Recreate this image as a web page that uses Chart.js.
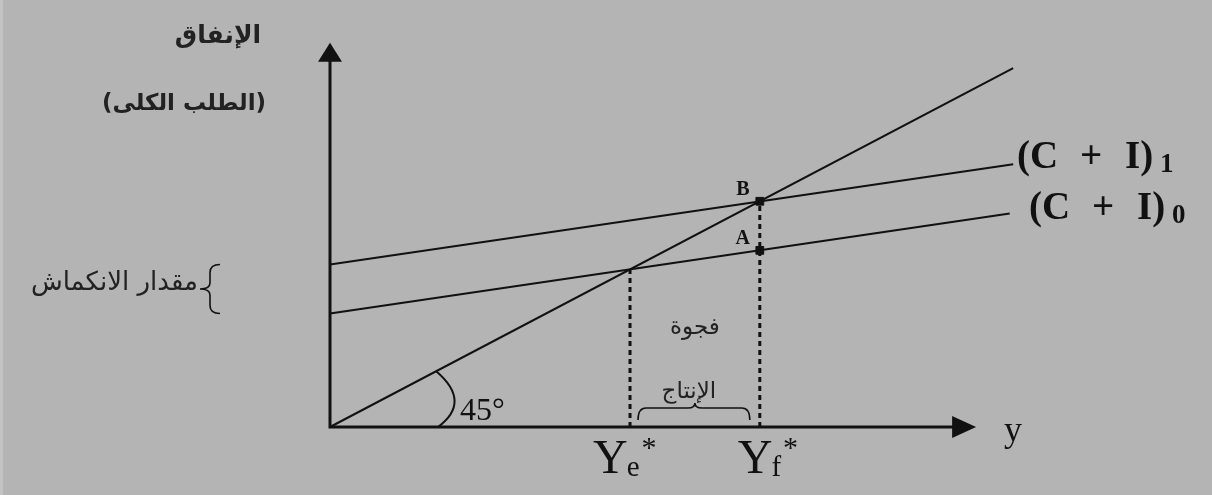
<!DOCTYPE html>
<html>
<head>
<meta charset="utf-8">
<script src="https://cdn.jsdelivr.net/npm/chart.js@4.4.1/dist/chart.umd.min.js"></script>
<style>
  html, body { margin: 0; padding: 0; background: #b4b4b4; }
  canvas { display: block; }
</style>
</head>
<body>
<canvas id="chart-gap" width="1212" height="495"></canvas>
<script>
// 45 degree line (spending = income)
var line45X = [0, 97.6];
var line45Y = [0, 97.6];
// aggregate demand lines
var ci1X = [0, 97.6];
var ci1Y = [44.2, 71.5];
var ci0X = [0, 97.1];
var ci0Y = [30.86, 58.05];
// equilibrium income and full employment income
var incomeX = [42.86, 61.4];
var incomeSub = ['e', 'f'];
// points A and B
var pointNames = ['A', 'B'];
var pointX = [61.4, 61.4];
var pointY = [48.05, 61.4];

function pts(xs, ys) {
    return xs.map(function (x, i) { return { x: x, y: ys[i] }; });
}

function lineSet(data, width, dash) {
    return {
        data: data,
        showLine: true,
        borderColor: '#111',
        borderWidth: width,
        borderDash: dash || [],
        pointRadius: 0,
        fill: false,
        clip: false
    };
}

var ARABIC = '"DejaVu Sans"';
var SERIF = '"Liberation Serif", "Times New Roman", serif';

function txt(ctx, s, x, y, font, align, color, rtl) {
    ctx.font = font;
    ctx.textAlign = align;
    ctx.fillStyle = color;
    ctx.direction = rtl ? 'rtl' : 'ltr';
    ctx.fillText(s, x, y);
}

var diagramPlugin = {
    id: 'diagram',
    beforeDraw: function (chart) {
        var ctx = chart.ctx;
        ctx.save();
        ctx.fillStyle = '#b4b4b4';
        ctx.fillRect(0, 0, chart.width, chart.height);
        ctx.fillStyle = '#c4c4c4';
        ctx.fillRect(0, 0, 3, chart.height);
        ctx.restore();
    },
    beforeDatasetsDraw: function (chart) {
        var ctx = chart.ctx, xs = chart.scales.x, ys = chart.scales.y;
        var x0 = xs.getPixelForValue(0), y0 = ys.getPixelForValue(0);
        var xTip = xs.getPixelForValue(92.3), yTip = ys.getPixelForValue(104.5);
        ctx.save();
        ctx.strokeStyle = '#111';
        ctx.fillStyle = '#111';
        ctx.lineWidth = 3;
        ctx.beginPath();
        ctx.moveTo(x0 - 1.5, y0);
        ctx.lineTo(xTip - 20, y0);
        ctx.moveTo(x0, y0 + 1.5);
        ctx.lineTo(x0, yTip + 16);
        ctx.stroke();
        ctx.beginPath();
        ctx.moveTo(xTip, y0);
        ctx.lineTo(xTip - 24, y0 - 11);
        ctx.lineTo(xTip - 24, y0 + 11);
        ctx.closePath();
        ctx.fill();
        ctx.beginPath();
        ctx.moveTo(x0, yTip);
        ctx.lineTo(x0 - 12, yTip + 19);
        ctx.lineTo(x0 + 12, yTip + 19);
        ctx.closePath();
        ctx.fill();
        ctx.restore();
    },
    afterDatasetsDraw: function (chart) {
        var ctx = chart.ctx, xs = chart.scales.x, ys = chart.scales.y;
        var x0 = xs.getPixelForValue(0), y0 = ys.getPixelForValue(0);
        var ink = '#111', grey = '#222';
        ctx.save();
        ctx.textBaseline = 'alphabetic';

        // y axis title
        txt(ctx, 'الإنفاق', 218, 43, 'bold 25px ' + ARABIC, 'center', grey, true);
        txt(ctx, '(الطلب الكلى)', 184, 110, 'bold 23px ' + ARABIC, 'center', grey, true);

        // contraction brace between the two intercepts
        var b1 = ys.getPixelForValue(ci1Y[0]), b0 = ys.getPixelForValue(ci0Y[0]);
        var bm = (b1 + b0) / 2, bx = 220;
        ctx.strokeStyle = ink;
        ctx.lineWidth = 1.6;
        ctx.beginPath();
        ctx.moveTo(bx, b1);
        ctx.quadraticCurveTo(bx - 10, b1, bx - 10, b1 + 8);
        ctx.lineTo(bx - 10, bm - 6);
        ctx.quadraticCurveTo(bx - 10, bm, bx - 20, bm);
        ctx.quadraticCurveTo(bx - 10, bm, bx - 10, bm + 6);
        ctx.lineTo(bx - 10, b0 - 8);
        ctx.quadraticCurveTo(bx - 10, b0, bx, b0);
        ctx.stroke();
        txt(ctx, 'مقدار الانكماش', 198, 290, '26px ' + ARABIC, 'right', grey, true);

        // 45 degree angle mark
        var ang = Math.atan2(y0 - ys.getPixelForValue(line45Y[1]), xs.getPixelForValue(line45X[1]) - x0);
        var r = 120;
        ctx.lineWidth = 2;
        ctx.beginPath();
        ctx.moveTo(x0 + r * Math.cos(ang), y0 - r * Math.sin(ang));
        ctx.quadraticCurveTo(x0 + r + 22, y0 - r * Math.sin(ang) * 0.45, x0 + r - 12, y0);
        ctx.stroke();
        txt(ctx, '45°', x0 + 130, y0 - 7, '32px ' + SERIF, 'left', ink, false);

        // income labels on the x axis
        var yeOff = [-37, -22];
        incomeX.forEach(function (v, i) {
            var px = xs.getPixelForValue(v) + yeOff[i];
            ctx.font = '48px ' + SERIF;
            var w = ctx.measureText('Y').width;
            txt(ctx, 'Y', px, 473, '48px ' + SERIF, 'left', ink, false);
            txt(ctx, incomeSub[i], px + w - 1, 476, '29px ' + SERIF, 'left', ink, false);
            ctx.font = '29px ' + SERIF;
            var ws = ctx.measureText(incomeSub[i]).width;
            txt(ctx, '*', px + w + ws + 1, 457, '30px ' + SERIF, 'left', ink, false);
        });
        txt(ctx, 'y', 1013, 441, '36px ' + SERIF, 'center', ink, false);

        // output gap label with brace
        var gx0 = xs.getPixelForValue(incomeX[0]), gx1 = xs.getPixelForValue(incomeX[1]);
        var gm = (gx0 + gx1) / 2;
        txt(ctx, 'فجوة', gm, 334, '23px ' + ARABIC, 'center', grey, true);
        txt(ctx, 'الإنتاج', gm - 6, 398, '23px ' + ARABIC, 'center', grey, true);
        var gl = gx0 + 8, gr = gx1 - 10, gt = 408, gb = 420;
        ctx.strokeStyle = ink;
        ctx.lineWidth = 1.6;
        ctx.beginPath();
        ctx.moveTo(gl, gb);
        ctx.quadraticCurveTo(gl, gt, gl + 8, gt);
        ctx.lineTo(gm - 7, gt);
        ctx.quadraticCurveTo(gm, gt, gm, gt - 5);
        ctx.quadraticCurveTo(gm, gt, gm + 7, gt);
        ctx.lineTo(gr - 8, gt);
        ctx.quadraticCurveTo(gr, gt, gr, gb);
        ctx.stroke();

        // point labels
        pointNames.forEach(function (n, i) {
            var px = xs.getPixelForValue(pointX[i]), py = ys.getPixelForValue(pointY[i]);
            txt(ctx, n, px - 17, py - 6, 'bold 20px ' + SERIF, 'center', ink, false);
        });

        // line labels
        var lbl = [
            { sub: '1', x: 1017, y: 168 },
            { sub: '0', x: 1029, y: 219 }
        ];
        lbl.forEach(function (l) {
            var f = 'bold 39px ' + SERIF;
            txt(ctx, '(C', l.x, l.y, f, 'left', ink, false);
            txt(ctx, '+', l.x + 63, l.y, f, 'left', ink, false);
            txt(ctx, 'I)', l.x + 108, l.y, f, 'left', ink, false);
            txt(ctx, l.sub, l.x + 143, l.y + 4, 'bold 27px ' + SERIF, 'left', ink, false);
        });
        ctx.restore();
    }
};

new Chart(document.getElementById('chart-gap').getContext('2d'), {
    type: 'scatter',
    data: {
        datasets: [
            lineSet(pts(line45X, line45Y), 2),
            lineSet(pts(ci1X, ci1Y), 2),
            lineSet(pts(ci0X, ci0Y), 2),
            lineSet([{ x: incomeX[0], y: 0 }, { x: incomeX[0], y: incomeX[0] }], 3, [5, 4]),
            lineSet([{ x: incomeX[1], y: 0 }, { x: incomeX[1], y: incomeX[1] }], 3, [5, 4]),
            {
                data: pts(pointX, pointY),
                showLine: false,
                pointStyle: 'rect',
                pointRadius: 5.5,
                backgroundColor: '#111',
                borderColor: '#111',
                clip: false
            }
        ]
    },
    options: {
        responsive: false,
        animation: false,
        events: [],
        layout: { autoPadding: false, padding: { left: 330, right: 182, top: 41, bottom: 68 } },
        plugins: { legend: { display: false }, tooltip: { enabled: false } },
        scales: {
            x: { type: 'linear', min: 0, max: 100, display: false },
            y: { type: 'linear', min: 0, max: 105, display: false }
        }
    },
    plugins: [diagramPlugin]
});
</script>
</body>
</html>
